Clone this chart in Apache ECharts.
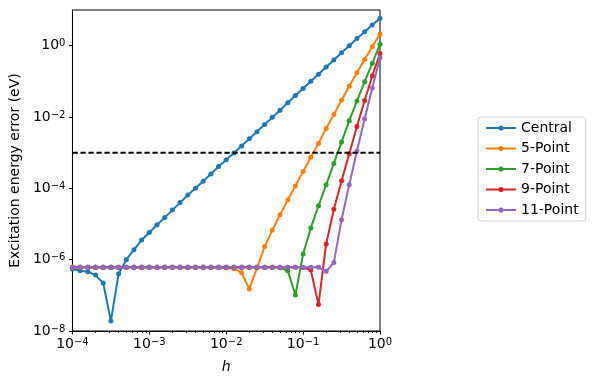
<!DOCTYPE html>
<html><head><meta charset="utf-8">
<script src="https://cdn.jsdelivr.net/npm/echarts@6/dist/echarts.min.js"></script>
<style>html,body{margin:0;padding:0;background:#fff}#c{width:598px;height:385px}</style>
</head><body><div id="c"></div>
<script>
// step sizes h (log-spaced sample points)
const hValues = [
  1.000e-4, 1.259e-4, 1.585e-4, 1.995e-4, 2.512e-4, 3.162e-4, 3.981e-4, 5.012e-4, 6.310e-4, 7.943e-4,
  1.000e-3, 1.259e-3, 1.585e-3, 1.995e-3, 2.512e-3, 3.162e-3, 3.981e-3, 5.012e-3, 6.310e-3, 7.943e-3,
  1.000e-2, 1.259e-2, 1.585e-2, 1.995e-2, 2.512e-2, 3.162e-2, 3.981e-2, 5.012e-2, 6.310e-2, 7.943e-2,
  1.000e-1, 1.259e-1, 1.585e-1, 1.995e-1, 2.512e-1, 3.162e-1, 3.981e-1, 5.012e-1, 6.310e-1, 7.943e-1,
  1.000
];
const seriesNames = ['Central', '5-Point', '7-Point', '9-Point', '11-Point'];
const central = [
  5.5e-7, 4.9e-7, 4.6e-7, 3.7e-7, 2.2e-7, 1.9e-8, 4.0e-7, 1.0e-6, 1.9e-6, 3.55e-6,
  5.75e-6, 9.55e-6, 1.51e-5, 2.45e-5, 3.98e-5, 6.46e-5, 1.0e-4, 1.58e-4, 2.51e-4, 4.07e-4,
  6.31e-4, 9.77e-4, 1.55e-3, 2.45e-3, 3.89e-3, 6.17e-3, 9.77e-3, 1.55e-2, 2.51e-2, 3.98e-2,
  6.31e-2, 0.1, 0.158, 0.251, 0.398, 0.631, 1.0, 1.58, 2.45, 3.8,
  5.9
];
const point5 = [
  6.1e-7, 6.1e-7, 6.1e-7, 6.1e-7, 6.1e-7, 6.1e-7, 6.1e-7, 6.1e-7, 6.1e-7, 6.1e-7,
  6.1e-7, 6.1e-7, 6.1e-7, 6.1e-7, 6.1e-7, 6.1e-7, 6.1e-7, 6.1e-7, 6.1e-7, 6.0e-7,
  5.9e-7, 5.6e-7, 4.3e-7, 1.5e-7, 5.8e-7, 2.34e-6, 6.76e-6, 1.82e-5, 4.68e-5, 1.17e-4,
  2.95e-4, 7.4e-4, 1.82e-3, 4.79e-3, 1.17e-2, 2.95e-2, 7.24e-2, 0.175, 0.407, 0.93,
  2.14
];
const point7 = [
  6.1e-7, 6.1e-7, 6.1e-7, 6.1e-7, 6.1e-7, 6.1e-7, 6.1e-7, 6.1e-7, 6.1e-7, 6.1e-7,
  6.1e-7, 6.1e-7, 6.1e-7, 6.1e-7, 6.1e-7, 6.1e-7, 6.1e-7, 6.1e-7, 6.1e-7, 6.1e-7,
  6.1e-7, 6.1e-7, 6.1e-7, 6.1e-7, 6.1e-7, 6.1e-7, 6.1e-7, 5.9e-7, 4.9e-7, 1.02e-7,
  1.45e-6, 7.76e-6, 3.24e-5, 1.26e-4, 5.0e-4, 2.0e-3, 7.9e-3, 2.8e-2, 9.8e-2, 0.32,
  1.1
];
const point9 = [
  6.1e-7, 6.1e-7, 6.1e-7, 6.1e-7, 6.1e-7, 6.1e-7, 6.1e-7, 6.1e-7, 6.1e-7, 6.1e-7,
  6.1e-7, 6.1e-7, 6.1e-7, 6.1e-7, 6.1e-7, 6.1e-7, 6.1e-7, 6.1e-7, 6.1e-7, 6.1e-7,
  6.1e-7, 6.1e-7, 6.1e-7, 6.1e-7, 6.1e-7, 6.1e-7, 6.1e-7, 6.1e-7, 6.1e-7, 6.1e-7,
  6.0e-7, 5.1e-7, 5.5e-8, 2.75e-6, 2.6e-5, 1.62e-4, 9.3e-4, 5.4e-3, 2.9e-2, 0.143,
  0.6
];
const point11 = [
  6.1e-7, 6.1e-7, 6.1e-7, 6.1e-7, 6.1e-7, 6.1e-7, 6.1e-7, 6.1e-7, 6.1e-7, 6.1e-7,
  6.1e-7, 6.1e-7, 6.1e-7, 6.1e-7, 6.1e-7, 6.1e-7, 6.1e-7, 6.1e-7, 6.1e-7, 6.1e-7,
  6.1e-7, 6.1e-7, 6.1e-7, 6.1e-7, 6.1e-7, 6.1e-7, 6.1e-7, 6.1e-7, 6.1e-7, 6.1e-7,
  6.1e-7, 6.1e-7, 6.1e-7, 4.7e-7, 8.3e-7, 1.32e-5, 1.26e-4, 1.12e-3, 8.9e-3, 6.5e-2,
  0.46
];
const xTickValues = [1e-4, 1e-3, 1e-2, 1e-1, 1];
const xMinorTickValues = [
  2e-4, 3e-4, 4e-4, 5e-4, 6e-4, 7e-4, 8e-4, 9e-4,
  2e-3, 3e-3, 4e-3, 5e-3, 6e-3, 7e-3, 8e-3, 9e-3,
  2e-2, 3e-2, 4e-2, 5e-2, 6e-2, 7e-2, 8e-2, 9e-2,
  0.2, 0.3, 0.4, 0.5, 0.6, 0.7, 0.8, 0.9
];
const yTickValues = [1e-8, 1e-6, 1e-4, 1e-2, 1];
const thresholdValue = 1e-3;
const xRange = [1e-4, 1];

const colors = ['#1f77b4', '#ff7f0e', '#2ca02c', '#d62728', '#9467bd'];
const allSeries = [central, point5, point7, point9, point11];
const FONT = 'DejaVu Sans';

function powLabel(v) {
  const e = Math.round(Math.log10(v));
  const s = e < 0 ? '\u2212' + (-e) : String(e);
  return '{b|10}{sup|' + s + '}';
}
const richStyle = {
  b: { fontSize: 14, fontFamily: FONT, color: '#000', verticalAlign: 'bottom', lineHeight: 14 },
  sup: { fontSize: 10, fontFamily: FONT, color: '#000', verticalAlign: 'top', lineHeight: 10, padding: [0, 0, 7, 0] }
};

const chart = echarts.init(document.getElementById('c'), null, { renderer: 'canvas' });
const series = allSeries.map((vals, i) => ({
  name: seriesNames[i],
  type: 'line',
  xAxisIndex: 0, yAxisIndex: 0,
  data: hValues.map((h, k) => [h, vals[k]]),
  symbol: 'circle', symbolSize: 5, showSymbol: true,
  itemStyle: { color: colors[i] },
  lineStyle: { color: colors[i], width: 2 },
  emphasis: { disabled: true },
  animation: false, z: 2 + i
}));
series.push({
  name: 'threshold', type: 'line', xAxisIndex: 0, yAxisIndex: 0,
  data: xRange.map(x => [x, thresholdValue]),
  symbol: 'none', showSymbol: false,
  lineStyle: { color: '#000', width: 2, type: [5.3, 2.7] },
  itemStyle: { color: '#000' },
  emphasis: { disabled: true }, silent: true,
  animation: false, z: 10
});

chart.setOption({
  animation: false,
  backgroundColor: '#fff',
  textStyle: { fontFamily: FONT },
  grid: { left: 72, top: 10, width: 308, height: 321, show: true, borderColor: '#000', borderWidth: 1, backgroundColor: 'transparent' },
  legend: {
    data: seriesNames,
    orient: 'vertical', left: 478, top: 117,
    itemWidth: 30, itemHeight: 6.5, itemGap: 6.5,
    padding: [4, 7, 4, 7],
    borderColor: '#d0d0d0', borderWidth: 1, borderRadius: 3,
    backgroundColor: '#fff',
    textStyle: { fontSize: 14, fontFamily: FONT, color: '#000', lineHeight: 14 },
    selectedMode: false
  },
  xAxis: [{
    type: 'log', logBase: 10, min: 1e-4, max: 1, position: 'bottom',
    name: 'h', nameLocation: 'middle', nameGap: 29,
    nameTextStyle: { fontSize: 14, fontStyle: 'italic', fontFamily: FONT, color: '#000' },
    axisLine: { show: true, lineStyle: { color: '#000', width: 1 } },
    axisTick: { show: true, inside: false, length: 3.5, lineStyle: { color: '#000', width: 1 }, customValues: xTickValues },
    axisLabel: { show: true, margin: 6, customValues: xTickValues, formatter: powLabel, rich: richStyle },
    splitLine: { show: false }, minorTick: { show: false }
  }, {
    type: 'log', logBase: 10, min: 1e-4, max: 1, position: 'bottom', gridIndex: 0,
    axisLine: { show: false },
    axisTick: { show: true, inside: false, length: 2, lineStyle: { color: '#000', width: 0.8 }, customValues: xMinorTickValues },
    axisLabel: { show: false },
    splitLine: { show: false }
  }],
  yAxis: {
    type: 'log', logBase: 10, min: 1e-8, max: 10,
    name: 'Excitation energy error (eV)', nameLocation: 'middle', nameGap: 45,
    nameTextStyle: { fontSize: 14, fontFamily: FONT, color: '#000' },
    axisLine: { show: true, lineStyle: { color: '#000', width: 1 } },
    axisTick: { show: true, inside: false, length: 3.5, lineStyle: { color: '#000', width: 1 }, customValues: yTickValues },
    axisLabel: { show: true, margin: 7, customValues: yTickValues, formatter: powLabel, rich: richStyle },
    splitLine: { show: false }, minorTick: { show: false }
  },
  series: series
});
</script>
</body></html>
